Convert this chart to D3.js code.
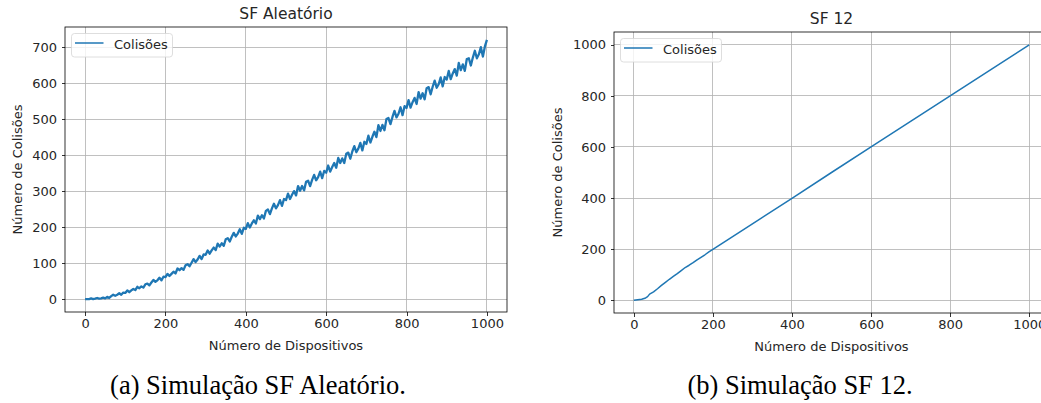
<!DOCTYPE html>
<meta charset="utf-8">
<style>
    body { margin: 0; background: #fff; }
    svg text { font-family: 'DejaVu Sans', sans-serif; fill: #262626; }
    .axis path, .axis line { stroke: #000; stroke-width: 0.8; shape-rendering: crispEdges; }
    .axis text { font-size: 13px; fill: #262626; }
    .grid line { stroke: #b0b0b0; stroke-width: 0.8; shape-rendering: crispEdges; }
    .caption { font-family: 'Liberation Serif', 'Times New Roman', serif; font-size: 26.5px; fill: #000; }
</style>
<body>
<svg id="chart" width="1041" height="403"></svg>
<script src="https://cdn.jsdelivr.net/npm/d3@7"></script>
<script>

// (a) SF Aleatório - one sample every 5 devices
var dispositivosA = d3.range(0, 1001, 5);
var colisoesA = [
    0, 0, 0, 2, 0, 1, 3, 1, 2, 4, 2,
    6, 3, 8, 12, 9, 12, 16, 12, 18, 17,
    24, 19, 24, 28, 25, 34, 30, 35, 32, 41,
    43, 38, 46, 53, 48, 52, 59, 52, 62, 61,
    70, 64, 70, 76, 71, 85, 80, 86, 81, 94,
    97, 91, 101, 111, 103, 110, 120, 111, 124, 123,
    135, 126, 135, 143, 136, 154, 146, 155, 148, 166,
    169, 160, 173, 184, 174, 182, 194, 181, 198, 195,
    211, 199, 210, 219, 210, 232, 222, 233, 224, 245,
    249, 236, 252, 265, 252, 261, 275, 259, 278, 275,
    293, 278, 290, 300, 288, 314, 301, 314, 302, 326,
    329, 314, 331, 345, 330, 339, 354, 336, 356, 351,
    371, 354, 367, 378, 365, 392, 378, 391, 378, 404,
    407, 390, 410, 425, 408, 418, 434, 413, 437, 431,
    454, 435, 451, 465, 450, 483, 467, 484, 469, 500,
    503, 486, 506, 523, 505, 515, 533, 511, 536, 531,
    553, 532, 547, 559, 542, 575, 557, 572, 555, 586,
    589, 569, 590, 607, 587, 597, 616, 591, 617, 610,
    634, 611, 627, 639, 621, 656, 636, 652, 634, 667,
    669, 649, 671, 690, 669, 680, 700, 674, 702, 720
];

// (b) SF 12
var dispositivosB = [0, 10, 20, 30, 35, 40, 50, 60, 70, 80, 90, 100, 110, 120, 130,
    140, 150, 160, 170, 180, 190, 200, 300, 400, 500, 600, 700, 800, 900, 1000];
var colisoesB = [0, 2, 4, 9, 14, 24, 33, 45, 58, 70, 82, 93, 104, 116, 128,
    137, 147, 158, 168, 178, 189, 199, 299, 399, 500, 600, 700, 800, 900, 1000];

var ticksX = [0, 200, 400, 600, 800, 1000];
var ticksYA = [0, 100, 200, 300, 400, 500, 600, 700];
var ticksYB = [0, 200, 400, 600, 800, 1000];

var svg = d3.select("#chart");

function painel(cfg) {
    var x = d3.scaleLinear().domain([-50, 1050]).range([cfg.left, cfg.right]);
    var ext = d3.extent(cfg.ys);
    var pad = (ext[1] - ext[0]) * 0.05;
    var y = d3.scaleLinear().domain([ext[0] - pad, ext[1] + pad]).range([cfg.bottom, cfg.top]);

    var g = svg.append("g");

    // grid
    var grid = g.append("g").attr("class", "grid");
    grid.selectAll(".gx").data(cfg.ticksX).enter().append("line")
        .attr("x1", function (d) { return x(d); }).attr("x2", function (d) { return x(d); })
        .attr("y1", cfg.top).attr("y2", cfg.bottom);
    grid.selectAll(".gy").data(cfg.ticksY).enter().append("line")
        .attr("y1", function (d) { return y(d); }).attr("y2", function (d) { return y(d); })
        .attr("x1", cfg.left).attr("x2", cfg.right);

    // line
    var pts = cfg.xs.map(function (d, i) { return [d, cfg.ys[i]]; });
    g.append("path")
        .datum(pts)
        .attr("fill", "none")
        .attr("stroke", "#1f77b4")
        .attr("stroke-width", cfg.lw)
        .attr("stroke-linejoin", "round")
        .attr("d", d3.line().x(function (d) { return x(d[0]); }).y(function (d) { return y(d[1]); }));

    // axes
    g.append("g").attr("class", "axis")
        .attr("transform", "translate(0," + cfg.bottom + ")")
        .call(d3.axisBottom(x).tickValues(cfg.ticksX).tickFormat(d3.format("d")).tickSize(3.5).tickPadding(3.5))
        .call(function (a) { a.select(".domain").remove(); });
    g.append("g").attr("class", "axis")
        .attr("transform", "translate(" + cfg.left + ",0)")
        .call(d3.axisLeft(y).tickValues(cfg.ticksY).tickFormat(d3.format("d")).tickSize(3.5).tickPadding(4.5))
        .call(function (a) { a.select(".domain").remove(); });

    // frame
    g.append("rect")
        .attr("x", cfg.left).attr("y", cfg.top)
        .attr("width", cfg.right - cfg.left).attr("height", cfg.bottom - cfg.top)
        .attr("fill", "none").attr("stroke", "#000").attr("stroke-width", 0.8);

    // title + labels
    var cx = (cfg.left + cfg.right) / 2;
    g.append("text").attr("x", cx).attr("y", cfg.top - 8)
        .attr("text-anchor", "middle").style("font-size", "15.5px").text(cfg.title);
    g.append("text").attr("x", cx).attr("y", cfg.bottom + 38)
        .attr("text-anchor", "middle").style("font-size", "13px").text("Número de Dispositivos");
    g.append("text")
        .attr("transform", "translate(" + cfg.ylabelX + "," + ((cfg.top + cfg.bottom) / 2) + ") rotate(-90)")
        .attr("text-anchor", "middle").style("font-size", "13px").text("Número de Colisões");

    // legend
    var lg = g.append("g").attr("transform", "translate(" + (cfg.left + 6.5) + "," + (cfg.top + 6.5) + ")");
    lg.append("rect").attr("width", 101).attr("height", 23.5).attr("rx", 3)
        .attr("fill", "#fff").attr("fill-opacity", 0.8).attr("stroke", "#d6d6d6").attr("stroke-width", 0.8);
    lg.append("line").attr("x1", 3.5).attr("x2", 32).attr("y1", 9.5).attr("y2", 9.5)
        .attr("stroke", "#1f77b4").attr("stroke-width", 1.5);
    lg.append("text").attr("x", 42.5).attr("y", 15.5).style("font-size", "13px").text("Colisões");

    // caption
    svg.append("text").attr("class", "caption")
        .attr("x", cfg.captionX).attr("y", 394).attr("text-anchor", "middle").text(cfg.caption);
}

painel({
    xs: dispositivosA, ys: colisoesA, ticksX: ticksX, ticksY: ticksYA, lw: 2.3,
    left: 65, right: 507, top: 27, bottom: 312,
    title: "SF Aleatório", ylabelX: 22,
    caption: "(a) Simulação SF Aleatório.", captionX: 258
});

painel({
    xs: dispositivosB, ys: colisoesB, ticksX: ticksX, ticksY: ticksYB, lw: 1.5,
    left: 614, right: 1049, top: 32, bottom: 313,
    title: "SF 12", ylabelX: 562,
    caption: "(b) Simulação SF 12.", captionX: 800
});

</script>
</body>
